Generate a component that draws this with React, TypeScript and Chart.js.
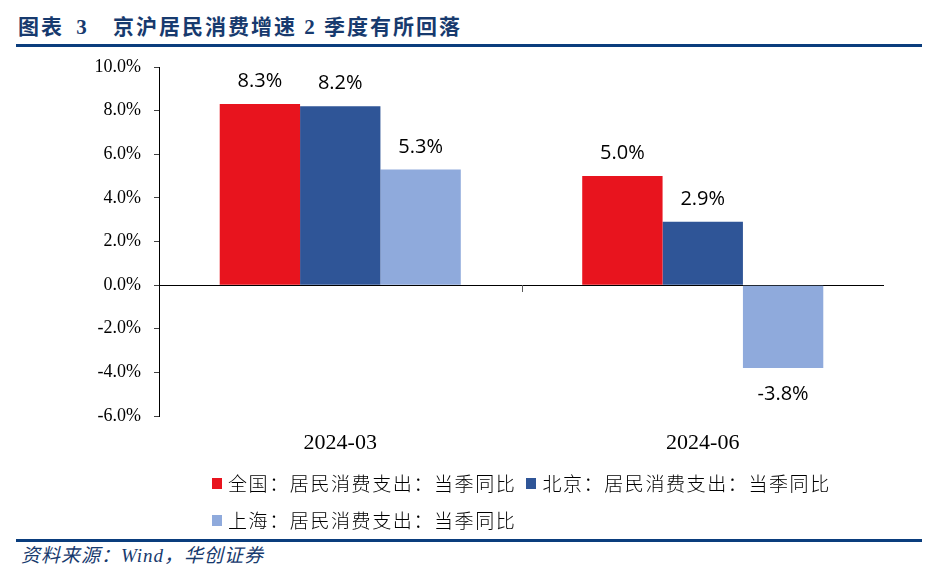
import React, { useEffect, useRef } from "react";
import { Chart, registerables } from "chart.js";

Chart.register(...registerables);

const titleLead = "图表 3";
const titleMain = "京沪居民消费增速 2 季度有所回落";
const sourceText = "资料来源：Wind，华创证券";

const categories = ["2024-03", "2024-06"];
const seriesNames = [
  "全国：居民消费支出：当季同比",
  "北京：居民消费支出：当季同比",
  "上海：居民消费支出：当季同比",
];
const nationalValues = [8.3, 5.0];
const beijingValues = [8.2, 2.9];
const shanghaiValues = [5.3, -3.8];
const seriesColors = ["#E8141E", "#2F5597", "#8FAADC"];
const yMin = -6;
const yMax = 10;
const yStep = 2;

const NAVY = "#0a3d7d";
const TITLE_COLOR = "#173a6e";

const valueLabels = {
  id: "valueLabels",
  afterDatasetsDraw(chart: any) {
    const ctx = chart.ctx;
    ctx.save();
    ctx.font = "20px 'Open Sans'";
    ctx.fillStyle = "#000";
    ctx.textAlign = "center";
    ctx.textBaseline = "alphabetic";
    chart.data.datasets.forEach((ds: any, i: number) => {
      const meta = chart.getDatasetMeta(i);
      meta.data.forEach((el: any, j: number) => {
        const v = ds.data[j] as number;
        const text = v.toFixed(1) + "%";
        const { x, y } = el.getProps(["x", "y"], true);
        if (v >= 0) ctx.fillText(text, x, y - 17);
        else ctx.fillText(text, x, y + 17 + 14.5);
      });
    });
    ctx.restore();
  },
};

const categoryDivider = {
  id: "categoryDivider",
  afterDraw(chart: any) {
    const xs = chart.scales.x;
    const ys = chart.scales.y;
    const ctx = chart.ctx;
    const y0 = Math.round(ys.getPixelForValue(0));
    ctx.save();
    ctx.strokeStyle = "#595959";
    ctx.lineWidth = 1;
    for (let i = 1; i < categories.length; i++) {
      const xm = Math.round((xs.getPixelForValue(i - 1) + xs.getPixelForValue(i)) / 2) + 0.5;
      ctx.beginPath();
      ctx.moveTo(xm, y0);
      ctx.lineTo(xm, y0 + 7);
      ctx.stroke();
    }
    ctx.restore();
  },
};

export default function App() {
  const canvasRef = useRef<HTMLCanvasElement | null>(null);

  useEffect(() => {
    if (!canvasRef.current) return;
    const seriesValues = [nationalValues, beijingValues, shanghaiValues];
    const chart = new Chart(canvasRef.current, {
      type: "bar",
      data: {
        labels: categories,
        datasets: seriesNames.map((name, i) => ({
          label: name,
          data: seriesValues[i],
          backgroundColor: seriesColors[i],
          borderWidth: 0,
          categoryPercentage: 0.665,
          barPercentage: 1,
        })),
      },
      options: {
        responsive: false,
        animation: false,
        layout: { padding: { left: 0, top: 67, right: 63, bottom: 0 } },
        plugins: {
          legend: { display: false },
          tooltip: { enabled: false },
        },
        scales: {
          x: {
            grid: { display: false, drawTicks: false },
            border: { display: false },
            ticks: {
              font: { family: "'Liberation Serif'", size: 22 },
              color: "#000",
              padding: 14,
            },
            afterFit(s: any) {
              s.height = 54;
            },
          },
          y: {
            min: yMin,
            max: yMax,
            z: 1,
            ticks: {
              stepSize: yStep,
              callback: (v: any) => Number(v).toFixed(1) + "%",
              font: { family: "'Liberation Serif'", size: 18 },
              color: "#000",
              padding: 13,
            },
            grid: {
              color: (c: any) => (c.tick && c.tick.value === 0 ? "#000" : "rgba(0,0,0,0)"),
              tickColor: "#404040",
              tickLength: 5,
              drawTicks: true,
            },
            border: { color: "#000", width: 1 },
            afterFit(s: any) {
              s.width = 159;
            },
          },
        },
      },
      plugins: [valueLabels, categoryDivider],
    });
    return () => chart.destroy();
  }, []);

  const cjkSerif = "'Liberation Serif', 'Noto Sans CJK SC', sans-serif";

  return (
    <div
      style={{
        position: "absolute",
        left: 0,
        top: 0,
        width: 947,
        height: 582,
        background: "#fff",
        overflow: "hidden",
      }}
    >
      <div
        style={{
          position: "absolute",
          left: 18,
          top: 12,
          height: 30,
          lineHeight: "30px",
          fontFamily: cjkSerif,
          fontWeight: 700,
          fontSize: 21,
          letterSpacing: 2,
          wordSpacing: 5,
          color: TITLE_COLOR,
          whiteSpace: "pre",
        }}
      >
        {titleLead}
      </div>
      <div
        style={{
          position: "absolute",
          left: 113,
          top: 12,
          height: 30,
          lineHeight: "30px",
          fontFamily: cjkSerif,
          fontWeight: 700,
          fontSize: 21,
          letterSpacing: 2,
          color: TITLE_COLOR,
          whiteSpace: "pre",
        }}
      >
        {titleMain}
      </div>
      <div style={{ position: "absolute", left: 16, top: 44, width: 906, height: 3, background: NAVY }} />

      <canvas
        ref={canvasRef}
        width={947}
        height={470}
        style={{ position: "absolute", left: 0, top: 0, width: 947, height: 470 }}
      />

      <div
        style={{
          position: "absolute",
          left: 212,
          top: 468,
          width: 640,
          display: "flex",
          flexWrap: "wrap",
          columnGap: 10,
          rowGap: 7,
        }}
      >
        {seriesNames.map((name, i) => (
          <div key={name} style={{ display: "flex", alignItems: "center", height: 30 }}>
            <span
              style={{ display: "inline-block", width: 10, height: 11, background: seriesColors[i], marginRight: 6 }}
            />
            <span
              style={{
                fontFamily: "'Noto Sans CJK SC', sans-serif",
                fontWeight: 300,
                fontSize: 19,
                letterSpacing: 1.6,
                color: "#000",
                lineHeight: "30px",
                whiteSpace: "pre",
              }}
            >
              {name}
            </span>
          </div>
        ))}
      </div>

      <div style={{ position: "absolute", left: 16, top: 539, width: 906, height: 3, background: NAVY }} />
      <div
        style={{
          position: "absolute",
          left: 21,
          top: 542,
          height: 28,
          lineHeight: "28px",
          fontFamily: cjkSerif,
          fontStyle: "italic",
          fontSize: 19,
          letterSpacing: 1,
          color: TITLE_COLOR,
          whiteSpace: "pre",
        }}
      >
        {sourceText}
      </div>
    </div>
  );
}
